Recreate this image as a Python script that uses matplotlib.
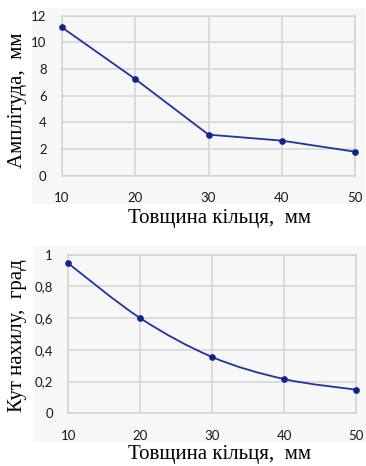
import matplotlib
matplotlib.use("Agg")
import matplotlib.pyplot as plt
from matplotlib.patches import Rectangle, PathPatch
from matplotlib.path import Path
import numpy as np

# Ring thickness, mm
thickness = [10, 20, 30, 40, 50]
# Oscillation amplitude, mm
amplitude = [11.12, 7.25, 3.08, 2.63, 1.80]
# Tilt angle, degrees
tilt_angle = [0.945, 0.60, 0.355, 0.216, 0.149]

amp_ticks = [0, 2, 4, 6, 8, 10, 12]
amp_tick_labels = ["0", "2", "4", "6", "8", "10", "12"]
ang_ticks = [0, 0.2, 0.4, 0.6, 0.8, 1.0]
ang_tick_labels = ["0", "0,2", "0,4", "0,6", "0,8", "1"]
x_ticks = [10, 20, 30, 40, 50]

xlabel = "Товщина кільця,  мм"
ylabel_top = "Амплітуда,  мм"
ylabel_bottom = "Кут нахилу,  град"

LINE = "#1f33a3"
MARK = "#0f2488"
GRID = "#d4d4d4"
BG = "#f7f7f7"
TICK_FONT = "Lato"
LABEL_FONT = "Liberation Serif"

W, H = 366, 466
fig = plt.figure(figsize=(W / 100, H / 100), dpi=100)
fig.patch.set_facecolor("white")


def px_rect(x0, y0, x1, y1):
    return (x0 / W, 1 - y1 / H, (x1 - x0) / W, (y1 - y0) / H)


# chart-area panels
for (x0, y0, x1, y1) in [(32, 8, 365, 204), (34, 246, 366, 442)]:
    l, b, w, h = px_rect(x0, y0, x1, y1)
    fig.patches.append(Rectangle((l, b), w, h, transform=fig.transFigure,
                                 facecolor=BG, edgecolor="none", zorder=-5))


def style_axes(ax, yticks, ylabels, ymax):
    ax.set_facecolor(BG)
    ax.set_xlim(10, 50)
    ax.set_ylim(0, ymax)
    ax.set_xticks(x_ticks)
    ax.set_xticklabels([str(v) for v in x_ticks], fontfamily=TICK_FONT, fontsize=9.5, color="#1a1a1a")
    ax.set_yticks(yticks)
    ax.set_yticklabels(ylabels, fontfamily=TICK_FONT, fontsize=9.5, color="#1a1a1a")
    ax.tick_params(axis="both", length=0)
    ax.tick_params(axis="x", pad=12)
    ax.tick_params(axis="y", pad=11)
    ax.grid(True, color=GRID, linewidth=1.1)
    ax.set_axisbelow(True)
    for s in ax.spines.values():
        s.set_color(GRID)
        s.set_linewidth(1.1)


def smooth_path(xs, ys):
    pts = np.column_stack([xs, ys]).astype(float)
    n = len(pts)
    verts = [pts[0]]
    codes = [Path.MOVETO]
    for i in range(n - 1):
        p0 = pts[i - 1] if i > 0 else pts[i]
        p1 = pts[i]
        p2 = pts[i + 1]
        p3 = pts[i + 2] if i + 2 < n else pts[i + 1]
        c1 = p1 + (p2 - p0) / 6.0
        c2 = p2 - (p3 - p1) / 6.0
        verts += [c1, c2, p2]
        codes += [Path.CURVE4] * 3
    return Path(verts, codes)


# top panel: amplitude
l, b, w, h = px_rect(62, 15.7, 355, 175.7)
ax1 = fig.add_axes([l, b, w, h], zorder=1)
style_axes(ax1, amp_ticks, amp_tick_labels, 12)
ax1.plot(thickness, amplitude, color=LINE, linewidth=1.3, marker="o",
         markersize=3.8, markerfacecolor=MARK, markeredgecolor=MARK, clip_on=False, zorder=3)

# bottom panel: tilt angle (smoothed line)
l, b, w, h = px_rect(68.3, 254.7, 356, 413.3)
ax2 = fig.add_axes([l, b, w, h], zorder=1)
style_axes(ax2, ang_ticks, ang_tick_labels, 1.0)
ax2.add_patch(PathPatch(smooth_path(thickness, tilt_angle), facecolor="none",
                        edgecolor=LINE, linewidth=1.3, zorder=3, clip_on=False))
ax2.plot(thickness, tilt_angle, linestyle="none", marker="o", markersize=3.8,
         markerfacecolor=MARK, markeredgecolor=MARK, clip_on=False, zorder=4)

# axis titles
fig.text(219 / W, 1 - 218 / H, xlabel, ha="center", va="center",
         fontfamily=LABEL_FONT, fontsize=15)
fig.text(219 / W, 1 - 455 / H, xlabel, ha="center", va="center",
         fontfamily=LABEL_FONT, fontsize=15)
fig.text(18 / W, 1 - 100 / H, ylabel_top, ha="center", va="center", rotation=90,
         fontfamily=LABEL_FONT, fontsize=15)
fig.text(18 / W, 1 - 336 / H, ylabel_bottom, ha="center", va="center", rotation=90,
         fontfamily=LABEL_FONT, fontsize=15)

fig.savefig("out.png", dpi=100, facecolor="white")
